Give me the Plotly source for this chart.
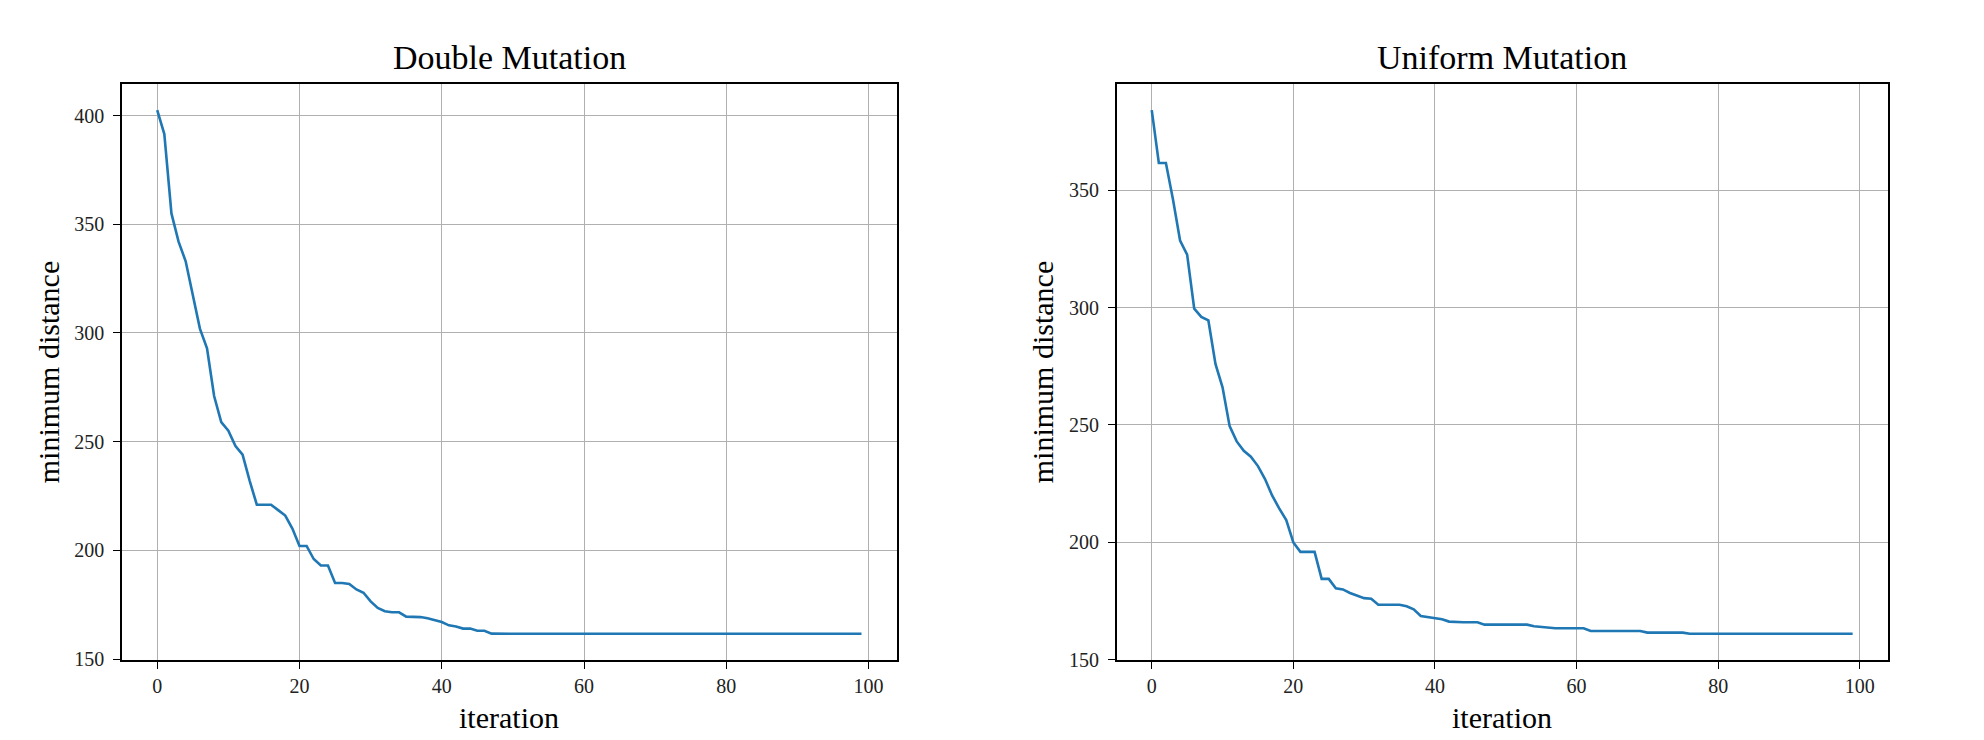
import plotly.graph_objects as go

iterations = list(range(100))

double_mutation = [
    402.5, 391.5, 355.0, 342.0, 333.0, 318.0, 302.0, 293.0, 271.0, 259.0,
    255.0, 248.0, 244.0, 232.0, 221.0, 221.0, 221.0, 218.5, 216.0, 210.0,
    202.0, 202.0, 196.0, 193.0, 193.0, 185.0, 185.0, 184.5, 182.0, 180.5,
    176.5, 173.5, 172.0, 171.5, 171.5, 169.5, 169.5, 169.3, 168.8, 168.0,
    167.0, 165.5, 165.0, 164.0, 164.0, 163.0, 163.0, 161.7, 161.6, 161.6,
    161.6, 161.6, 161.6, 161.6, 161.6, 161.6, 161.6, 161.6, 161.6, 161.6,
    161.6, 161.6, 161.6, 161.6, 161.6, 161.6, 161.6, 161.6, 161.6, 161.6,
    161.6, 161.6, 161.6, 161.6, 161.6, 161.6, 161.6, 161.6, 161.6, 161.6,
    161.6, 161.6, 161.6, 161.6, 161.6, 161.6, 161.6, 161.6, 161.6, 161.6,
    161.6, 161.6, 161.6, 161.6, 161.6, 161.6, 161.6, 161.6, 161.6, 161.6,
]

uniform_mutation = [
    384.0, 361.5, 361.5, 346.0, 328.5, 322.5, 299.5, 296.0, 294.5, 276.0,
    266.0, 249.5, 243.0, 239.0, 236.5, 232.5, 227.0, 220.0, 214.5, 209.5,
    200.0, 196.0, 196.0, 196.0, 184.5, 184.5, 180.5, 180.0, 178.5, 177.3,
    176.3, 176.0, 173.5, 173.5, 173.5, 173.5, 172.8, 171.5, 168.7, 168.2,
    168.0, 167.3, 166.3, 166.0, 166.0, 166.0, 166.0, 165.0, 165.0, 165.0,
    165.0, 165.0, 165.0, 165.0, 164.3, 164.0, 163.7, 163.5, 163.5, 163.5,
    163.5, 163.5, 162.3, 162.3, 162.3, 162.3, 162.3, 162.3, 162.3, 162.3,
    161.6, 161.6, 161.6, 161.6, 161.6, 161.6, 161.1, 161.1, 161.1, 161.1,
    161.1, 161.1, 161.1, 161.1, 161.1, 161.1, 161.1, 161.1, 161.1, 161.1,
    161.1, 161.1, 161.1, 161.1, 161.1, 161.1, 161.1, 161.1, 161.1, 161.1,
]

titles = ["Double Mutation", "Uniform Mutation"]
x_label = "iteration"
y_label = "minimum distance"
x_ticks = [0, 20, 40, 60, 80, 100]
y_ticks_left = [150, 200, 250, 300, 350, 400]
y_ticks_right = [150, 200, 250, 300, 350]

FONT = "Liberation Serif, Times New Roman, serif"
LINE_COLOR = "#1f77b4"
W, H = 1984, 740


def margin_range(vals, frac=0.05):
    lo, hi = min(vals), max(vals)
    pad = (hi - lo) * frac
    return [lo - pad, hi + pad]


def px_x(v):
    return v / W


def px_y(v):
    return 1 - v / H


fig = go.Figure()
fig.add_trace(go.Scatter(x=iterations, y=double_mutation, mode="lines",
                         line=dict(color=LINE_COLOR, width=2.6),
                         xaxis="x", yaxis="y", showlegend=False))
fig.add_trace(go.Scatter(x=iterations, y=uniform_mutation, mode="lines",
                         line=dict(color=LINE_COLOR, width=2.6),
                         xaxis="x2", yaxis="y2", showlegend=False))

left_dom = [px_x(122), px_x(896.7)]
right_dom = [px_x(1116.7), px_x(1887.7)]
y_dom = [px_y(660), px_y(84)]

axis_common = dict(
    showline=True, linecolor="black", linewidth=1.5, mirror=True,
    ticks="outside", ticklen=7, tickwidth=1.3, tickcolor="black",
    showgrid=True, gridcolor="#b0b0b0", gridwidth=1.2,
    zeroline=False, automargin=False,
    tickfont=dict(family=FONT, size=20, color="#222"),
)
label_font = dict(family=FONT, size=30, color="black")

xr = margin_range(iterations)
fig.update_layout(
    width=W, height=H,
    margin=dict(l=0, r=0, t=0, b=0),
    paper_bgcolor="white", plot_bgcolor="white",
    font=dict(family=FONT),
    xaxis=dict(domain=left_dom, anchor="y", range=xr, tickvals=x_ticks,
               ticklabelstandoff=0, **axis_common),
    yaxis=dict(domain=y_dom, anchor="x", range=margin_range(double_mutation), tickvals=y_ticks_left,
               ticklabelstandoff=5,
               title=dict(text=y_label, font=label_font, standoff=6),
               **axis_common),
    xaxis2=dict(domain=right_dom, anchor="y2", range=xr, tickvals=x_ticks,
                ticklabelstandoff=0, **axis_common),
    yaxis2=dict(domain=y_dom, anchor="x2", range=margin_range(uniform_mutation), tickvals=y_ticks_right,
                ticklabelstandoff=5,
                title=dict(text=y_label, font=label_font, standoff=6),
                **axis_common),
)

for dom, t in zip([left_dom, right_dom], titles):
    cx = (dom[0] + dom[1]) / 2
    fig.add_annotation(x=cx, y=y_dom[1], xref="paper", yref="paper",
                       text=t, showarrow=False, xanchor="center", yanchor="bottom",
                       yshift=6, font=dict(family=FONT, size=34, color="black"))
    fig.add_annotation(x=cx, y=px_y(717), xref="paper", yref="paper",
                       text=x_label, showarrow=False, xanchor="center", yanchor="middle",
                       font=label_font)

# remove the browser's default 8px body margin so the figure fills the window exactly
fig.write_html("out.html", config={"displayModeBar": False},
               post_script="document.body.style.margin='0px';")
